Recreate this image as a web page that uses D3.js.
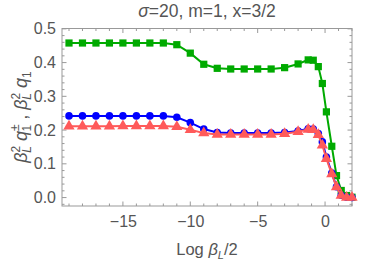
<!DOCTYPE html>
<html>
<head>
<meta charset="utf-8">
<script src="https://cdn.jsdelivr.net/npm/d3@7"></script>
<style>
  body { margin: 0; background: #fff; }
  text { font-family: "Liberation Sans", Arial, sans-serif; }
</style>
</head>
<body>
<div id="chart"></div>
<script>
// x positions (Log beta_L / 2)
const xVals = [-19, -18, -17, -16, -15, -14, -13, -12, -11, -10, -9, -8, -7, -6, -5, -4, -3, -2,
               -1.25, -0.875, -0.5, -0.2, 0.1, 0.5, 0.85, 1.2, 1.6, 2.0];
// green squares
const greenVals = [0.458, 0.458, 0.458, 0.458, 0.458, 0.458, 0.458, 0.458, 0.453, 0.428, 0.395, 0.383,
                   0.381, 0.381, 0.381, 0.381, 0.385, 0.396, 0.408, 0.407, 0.388, 0.338, 0.254, 0.152,
                   0.065, 0.021, 0.006, 0.001];
// blue circles
const blueVals = [0.242, 0.242, 0.242, 0.242, 0.242, 0.242, 0.242, 0.242, 0.238, 0.222, 0.203, 0.193,
                  0.191, 0.191, 0.191, 0.191, 0.193, 0.197, 0.204, 0.203, 0.19, 0.165, 0.12, 0.073,
                  0.032, 0.007, 0.001, 0.0];
// red triangles
const redVals = [0.211, 0.211, 0.211, 0.211, 0.212, 0.212, 0.212, 0.212, 0.21, 0.201, 0.191, 0.187,
                 0.187, 0.187, 0.187, 0.187, 0.189, 0.195, 0.202, 0.201, 0.186, 0.155, 0.115, 0.07,
                 0.031, 0.006, 0.0, 0.0];
const xTicks = [-15, -10, -5, 0];
const yTicks = [0.0, 0.1, 0.2, 0.3, 0.4, 0.5];

const W = 382, H = 263;
const margin = {top: 28.5, right: 30, bottom: 57, left: 62};
const width = W - margin.left - margin.right,
      height = H - margin.top - margin.bottom;

const svg = d3.select("#chart").append("svg")
    .attr("width", W).attr("height", H);
const g = svg.append("g")
    .attr("transform", `translate(${margin.left}, ${margin.top})`);

const x = d3.scaleLinear().domain([-19.52, 2.0]).range([0, width]);
const y = d3.scaleLinear().domain([-0.025, 0.501]).range([height, 0]);

const frameColor = "#999";
const labelColor = "#555";

// ticks: major + minor, inward, all four sides
const xMinor = d3.range(-19, 3, 1).filter(v => !xTicks.includes(v));
const yMinor = d3.range(-0.02, 0.5, 0.02).map(v => +v.toFixed(2)).filter(v => Math.abs(v * 10 - Math.round(v * 10)) > 1e-6);

const tickG = g.append("g").attr("stroke", frameColor).attr("stroke-width", 1);
function vTicks(vals, len) {
  vals.forEach(v => {
    tickG.append("line").attr("x1", x(v)).attr("x2", x(v)).attr("y1", height).attr("y2", height - len);
    tickG.append("line").attr("x1", x(v)).attr("x2", x(v)).attr("y1", 0).attr("y2", len);
  });
}
function hTicks(vals, len) {
  vals.forEach(v => {
    tickG.append("line").attr("y1", y(v)).attr("y2", y(v)).attr("x1", 0).attr("x2", len);
    tickG.append("line").attr("y1", y(v)).attr("y2", y(v)).attr("x1", width).attr("x2", width - len);
  });
}
vTicks(xTicks, 4.5); vTicks(xMinor, 2.5);
hTicks(yTicks, 4.5); hTicks(yMinor, 2.5);

// axes for labels only
const xAxis = g.append("g")
  .attr("transform", `translate(0, ${height})`)
  .call(d3.axisBottom(x).tickValues(xTicks).tickSize(0).tickPadding(10)
    .tickFormat(d => d < 0 ? "\u2212" + Math.abs(d) : d));
const yAxis = g.append("g")
  .call(d3.axisLeft(y).tickValues(yTicks).tickSize(0).tickPadding(6).tickFormat(d3.format(".1f")));
[xAxis, yAxis].forEach(a => {
  a.select(".domain").remove();
  a.selectAll("text").attr("fill", labelColor).style("font-size", "16px")
    .style("font-family", "'Liberation Sans', Arial, sans-serif");
});

// frame
g.append("rect").attr("width", width).attr("height", height)
  .attr("fill", "none").attr("stroke", frameColor).attr("stroke-width", 1);

const plot = g.append("g");
const line = d3.line().x(d => x(d[0])).y(d => y(d[1]));

function series(vals, color, shape) {
  const pts = xVals.map((v, i) => [v, vals[i]]);
  plot.append("path").datum(pts).attr("d", line)
    .attr("fill", "none").attr("stroke", color).attr("stroke-width", 2);
  plot.append("g").selectAll("path").data(pts).join("path")
    .attr("transform", d => `translate(${x(d[0])}, ${y(d[1])})`)
    .attr("d", d3.symbol().type(shape.type).size(shape.size))
    .attr("fill", color);
}
series(greenVals, "#00aa00", {type: d3.symbolSquare, size: 52});
series(blueVals, "#0000ff", {type: d3.symbolCircle, size: 45});
series(redVals, "#ff5a5a", {type: d3.symbolTriangle, size: 55});

// title
svg.append("text")
  .attr("x", 207).attr("y", 17).attr("text-anchor", "middle")
  .attr("fill", labelColor).style("font-size", "17.5px")
  .html('<tspan font-style="italic">σ</tspan>=20, m=1, x=3/2');

// x label
const xl = svg.append("text")
  .attr("x", 207).attr("y", 255).attr("text-anchor", "middle")
  .attr("fill", labelColor).style("font-size", "16.5px");
xl.append("tspan").text("Log ");
xl.append("tspan").attr("font-style", "italic").text("β");
xl.append("tspan").attr("font-style", "italic").attr("font-size", "11px").attr("dy", 4).text("L");
xl.append("tspan").attr("dy", -4).text("/2");

// y label
const yl = svg.append("text")
  .attr("transform", "translate(27, 117) rotate(-90)")
  .attr("text-anchor", "middle")
  .attr("fill", labelColor).style("font-size", "18px");
yl.append("tspan").attr("font-style", "italic").text("β");
yl.append("tspan").attr("font-size", "12px").attr("dy", -7).text("2");
yl.append("tspan").attr("font-size", "12px").attr("font-style", "italic").attr("dx", -7).attr("dy", 11).text("L");
yl.append("tspan").attr("dy", -4).text(" ");
yl.append("tspan").attr("font-style", "italic").text("q");
yl.append("tspan").attr("font-size", "12px").attr("dy", -8).text("±");
yl.append("tspan").attr("font-size", "12px").attr("dx", -7).attr("dy", 12).text("1");
yl.append("tspan").attr("dy", -4).text(" , ");
yl.append("tspan").attr("font-style", "italic").text("β");
yl.append("tspan").attr("font-size", "12px").attr("dy", -7).text("2");
yl.append("tspan").attr("font-size", "12px").attr("font-style", "italic").attr("dx", -7).attr("dy", 11).text("L");
yl.append("tspan").attr("dy", -4).text(" ");
yl.append("tspan").attr("font-style", "italic").text("q");
yl.append("tspan").attr("font-size", "12px").attr("dy", 4).text("1");
</script>
</body>
</html>
